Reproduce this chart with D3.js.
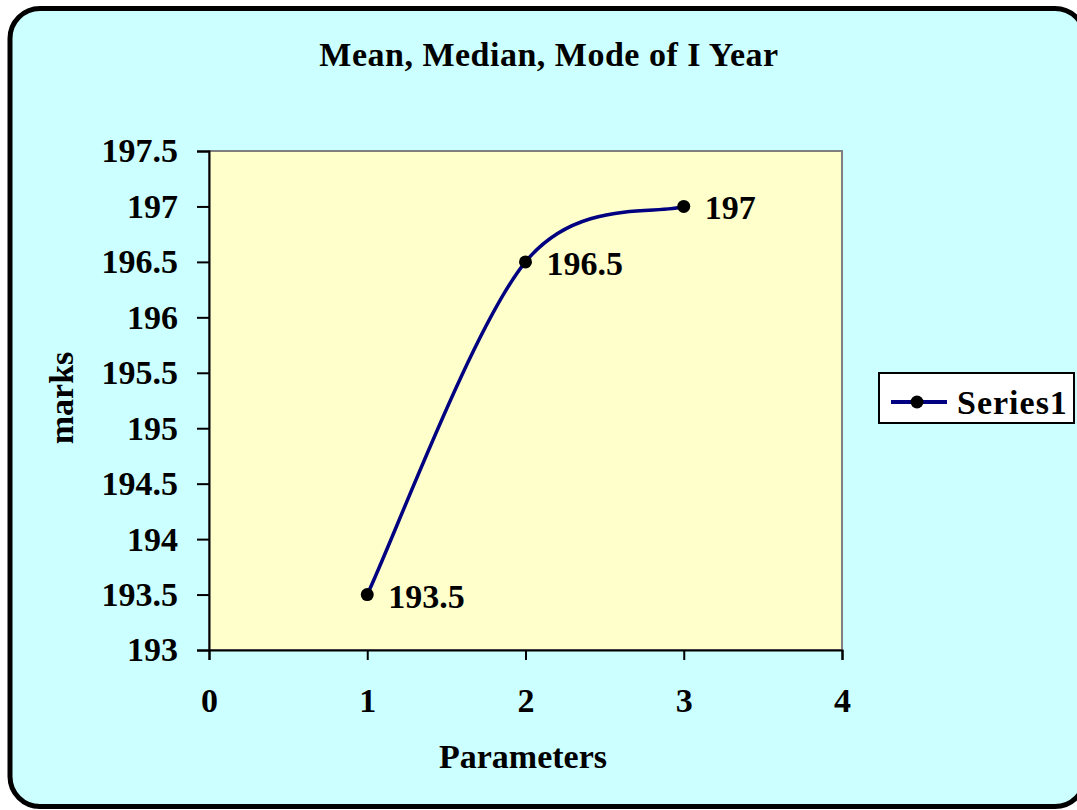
<!DOCTYPE html>
<html>
<head>
<meta charset="utf-8">
<script src="https://cdn.jsdelivr.net/npm/d3@7"></script>
<style>
  body { margin: 0; background: #fff; }
  text { font-family: "Liberation Serif", "Times New Roman", serif; font-weight: bold; fill: #000; }
</style>
</head>
<body>
<div id="chart"></div>
<script>
const xValues = [1, 2, 3];
const yValues = [193.5, 196.5, 197];
const xTicks = [0, 1, 2, 3, 4];
const yTicks = [193, 193.5, 194, 194.5, 195, 195.5, 196, 196.5, 197, 197.5];
const seriesName = 'Series1';
const chartTitle = 'Mean, Median, Mode of I Year';

const W = 1077, H = 810;
const plot = { left: 209, top: 151, right: 842, bottom: 650 };

// Excel-like smoothed line: Catmull-Rom beziers, end points clamped
function excelSmooth(context) {
  let pts;
  return {
    areaStart() {},
    areaEnd() {},
    lineStart() { pts = []; },
    point(x, y) { pts.push([+x, +y]); },
    lineEnd() {
      const n = pts.length;
      if (!n) return;
      context.moveTo(pts[0][0], pts[0][1]);
      for (let i = 0; i < n - 1; i++) {
        const p0 = pts[Math.max(i - 1, 0)];
        const p1 = pts[i];
        const p2 = pts[i + 1];
        const p3 = pts[Math.min(i + 2, n - 1)];
        context.bezierCurveTo(
          p1[0] + (p2[0] - p0[0]) / 6, p1[1] + (p2[1] - p0[1]) / 6,
          p2[0] - (p3[0] - p1[0]) / 6, p2[1] - (p3[1] - p1[1]) / 6,
          p2[0], p2[1]);
      }
    }
  };
}

const svg = d3.select('#chart')
  .append('svg')
  .attr('width', W)
  .attr('height', H);

// outer frame
svg.append('rect')
  .attr('x', 10)
  .attr('y', 8.5)
  .attr('width', 1075)
  .attr('height', 798)
  .attr('rx', 30)
  .attr('fill', '#ccffff')
  .attr('stroke', '#000')
  .attr('stroke-width', 5);

const xScale = d3.scaleLinear().domain([0, 4]).range([plot.left, plot.right]);
const yScale = d3.scaleLinear().domain([193, 197.5]).range([plot.bottom, plot.top]);

// plot area
svg.append('rect')
  .attr('x', plot.left)
  .attr('y', plot.top)
  .attr('width', plot.right - plot.left)
  .attr('height', plot.bottom - plot.top)
  .attr('fill', '#ffffcc')
  .attr('stroke', '#808080')
  .attr('stroke-width', 2);

const yAxis = svg.append('g')
  .attr('transform', `translate(${plot.left},0)`)
  .call(d3.axisLeft(yScale).tickValues(yTicks).tickSize(12).tickPadding(19).tickFormat(d => String(d)));
yAxis.select('.domain').attr('stroke', '#000').attr('stroke-width', 2);
yAxis.selectAll('.tick line').attr('stroke', '#000').attr('stroke-width', 2);
yAxis.selectAll('.tick text')
  .attr('font-size', 34)
  .attr('font-family', '"Liberation Serif", serif')
  .attr('font-weight', 'bold')
  .attr('fill', '#000');

const xAxis = svg.append('g')
  .attr('transform', `translate(0,${plot.bottom})`)
  .call(d3.axisBottom(xScale).tickValues(xTicks).tickSize(10).tickPadding(28).tickFormat(d3.format('d')));
xAxis.select('.domain').attr('stroke', '#000').attr('stroke-width', 2);
xAxis.selectAll('.tick line').attr('stroke', '#000').attr('stroke-width', 2);
xAxis.selectAll('.tick text')
  .attr('font-size', 34)
  .attr('font-family', '"Liberation Serif", serif')
  .attr('font-weight', 'bold')
  .attr('fill', '#000');

const pts = xValues.map((x, i) => [x, yValues[i]]);
const line = d3.line()
  .x(d => xScale(d[0]))
  .y(d => yScale(d[1]))
  .curve(excelSmooth);

svg.append('path')
  .datum(pts)
  .attr('d', line)
  .attr('fill', 'none')
  .attr('stroke', '#000080')
  .attr('stroke-width', 3.5)
  .attr('stroke-linejoin', 'round');

svg.selectAll('.pt')
  .data(pts)
  .enter()
  .append('circle')
  .attr('class', 'pt')
  .attr('cx', d => xScale(d[0]))
  .attr('cy', d => yScale(d[1]))
  .attr('r', 6.5)
  .attr('fill', '#000');

svg.selectAll('.lbl')
  .data(pts)
  .enter()
  .append('text')
  .attr('class', 'lbl')
  .attr('x', d => xScale(d[0]) + 21)
  .attr('y', d => yScale(d[1]) + 13)
  .attr('font-size', 34)
  .text(d => String(d[1]));

// titles
svg.append('text')
  .attr('x', 549)
  .attr('y', 66)
  .attr('text-anchor', 'middle')
  .attr('font-size', 34)
  .attr('letter-spacing', 0.5)
  .text(chartTitle);

svg.append('text')
  .attr('transform', 'translate(73,398) rotate(-90)')
  .attr('text-anchor', 'middle')
  .attr('font-size', 34)
  .text('marks');

svg.append('text')
  .attr('x', 523)
  .attr('y', 768)
  .attr('text-anchor', 'middle')
  .attr('font-size', 34)
  .text('Parameters');

// legend
const legend = svg.append('g').attr('transform', 'translate(879,373)');
legend.append('rect')
  .attr('width', 195)
  .attr('height', 50)
  .attr('fill', '#fff')
  .attr('stroke', '#000')
  .attr('stroke-width', 2);
legend.append('line')
  .attr('x1', 12).attr('x2', 68)
  .attr('y1', 29).attr('y2', 29)
  .attr('stroke', '#000080')
  .attr('stroke-width', 4);
legend.append('circle')
  .attr('cx', 38).attr('cy', 29).attr('r', 6.5).attr('fill', '#000');
legend.append('text')
  .attr('x', 78)
  .attr('y', 41)
  .attr('font-size', 34)
  .attr('letter-spacing', 1)
  .text(seriesName);
</script>
</body>
</html>
